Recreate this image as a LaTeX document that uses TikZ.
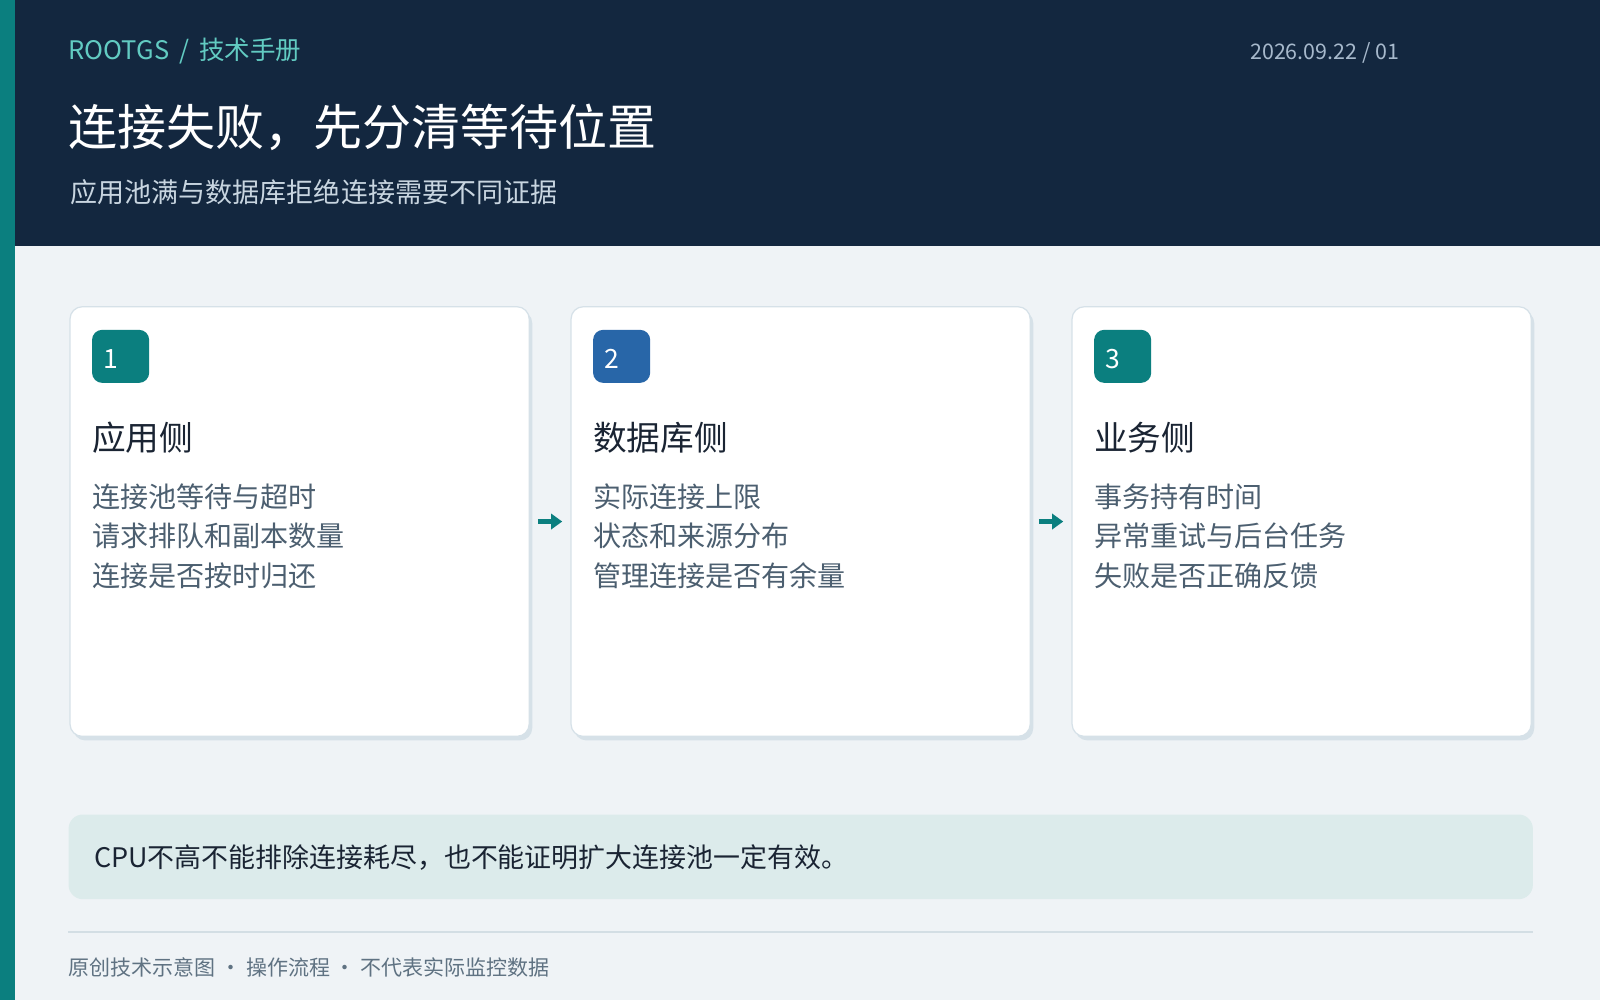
\documentclass[tikz,border=0pt]{standalone}
\usepackage{fontspec}
\setmainfont{Noto Sans CJK SC}
\usetikzlibrary{arrows.meta,positioning,shadows}

\definecolor{navy}{HTML}{13273F}
\definecolor{tealc}{HTML}{0B7F7F}
\definecolor{bluec}{HTML}{2866A8}
\definecolor{pagebg}{HTML}{EFF3F6}
\definecolor{notebg}{HTML}{DCEBEB}
\definecolor{aqua}{HTML}{62CBC2}
\definecolor{datec}{HTML}{A7B9CC}
\definecolor{subc}{HTML}{C8D5E0}
\definecolor{inkc}{HTML}{1A2433}
\definecolor{itemc}{HTML}{4C5F70}
\definecolor{footc}{HTML}{5F7282}
\definecolor{linec}{HTML}{D3DEE4}
\definecolor{cardline}{HTML}{D6E1E8}

\newcommand\fsz[1]{\fontsize{#1}{#1}\selectfont}

\tikzset{
  txt/.style={anchor=base west, inner sep=0pt},
  card/.style={anchor=north west, inner sep=0pt, minimum width=450pt, minimum height=421pt,
    fill=white, draw=cardline, line width=1.2pt, rounded corners=12pt,
    drop shadow={shadow xshift=3pt, shadow yshift=-4pt, fill=cardline, opacity=1}},
  badge/.style={anchor=north west, inner sep=0pt, minimum width=56pt, minimum height=52pt,
    rounded corners=10pt},
  num/.style={txt, text=white, font=\fsz{26}},
  ctitle/.style={txt, text=inkc, font=\fsz{33}},
  item/.style={txt, text=itemc, font=\fsz{27.5}},
  flow/.style={-{Triangle[length=11pt,width=15pt]}, tealc, line width=4.5pt,
    shorten <=8pt, shorten >=8pt}
}

\begin{document}
\begin{tikzpicture}[x=1pt, y=-1pt]
  \useasboundingbox (0,0) rectangle (1568,980);
  \fill[pagebg] (0,0) rectangle (1568,980);
  \fill[navy] (15,0) rectangle (1568,241);
  \fill[tealc] (0,0) rectangle (15,980);

  % header
  \node[txt, text=aqua, font=\fsz{25}] (brand) at (67,58) {ROOTGS\, / \,技术手册};
  \node[txt, text=datec, font=\fsz{21}] (date) at (1225,58) {2026.09.22 / 01};
  \node[txt, text=white, font=\fsz{48}] (title) at (67,143) {连接失败，先分清等待位置};
  \node[txt, text=subc, font=\fsz{26.5}] (subtitle) at (69,198) {应用池满与数据库拒绝连接需要不同证据};

  % cards
  \node[card] (c1) at (68,300) {};
  \node[card] (c2) at (559,300) {};
  \node[card] (c3) at (1050,300) {};

  \node[badge, fill=tealc] (b1) at (90,323) {};
  \node[badge, fill=bluec] (b2) at (581,323) {};
  \node[badge, fill=tealc] (b3) at (1072,323) {};
  \node[num] (n1) at (101,361) {1};
  \node[num] (n2) at (592,361) {2};
  \node[num] (n3) at (1083,361) {3};

  \node[ctitle] (t1) at (90,441) {应用侧};
  \node[item] (a1) at (90,497) {连接池等待与超时};
  \node[item] (a2) at (90,536) {请求排队和副本数量};
  \node[item] (a3) at (90,575) {连接是否按时归还};

  \node[ctitle] (t2) at (581,441) {数据库侧};
  \node[item] (d1) at (581,497) {实际连接上限};
  \node[item] (d2) at (581,536) {状态和来源分布};
  \node[item] (d3) at (581,575) {管理连接是否有余量};

  \node[ctitle] (t3) at (1072,441) {业务侧};
  \node[item] (s1) at (1072,497) {事务持有时间};
  \node[item] (s2) at (1072,536) {异常重试与后台任务};
  \node[item] (s3) at (1072,575) {失败是否正确反馈};

  \draw[flow] (c1.east) -- (c2.west);
  \draw[flow] (c2.east) -- (c3.west);

  % note and footer
  \node[anchor=north west, inner sep=0pt, minimum width=1435pt, minimum height=83pt,
    fill=notebg, rounded corners=14pt] (note) at (67,798) {};
  \node[txt, text=inkc, font=\fsz{26.4}] (notetext) at (92,850)
    {CPU不高不能排除连接耗尽，也不能证明扩大连接池一定有效。};
  \draw[linec, line width=2pt] (67,913) -- (1502,913);
  \node[txt, text=footc, font=\fsz{20.6}] (foot) at (67,956)
    {原创技术示意图 ・ 操作流程 ・ 不代表实际监控数据};
\end{tikzpicture}
\end{document}
